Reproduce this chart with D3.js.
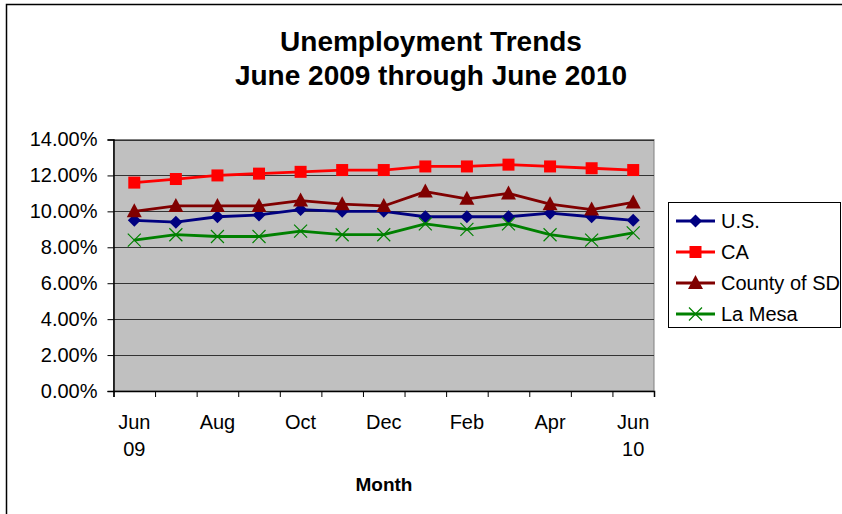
<!DOCTYPE html>
<html>
<head>
<meta charset="utf-8">
<script src="https://cdn.jsdelivr.net/npm/d3@7"></script>
<style>
  html, body { margin: 0; padding: 0; background: #fff; }
  svg { display: block; font-family: "Liberation Sans", Arial, sans-serif; }
</style>
</head>
<body>
<svg id="chart" width="842" height="514"></svg>
<script>
// Monthly categories, June 2009 .. June 2010
const months = ["Jun 09","Jul 09","Aug 09","Sep 09","Oct 09","Nov 09","Dec 09",
                "Jan 10","Feb 10","Mar 10","Apr 10","May 10","Jun 10"];

// Category labels drawn under the axis (every other month)
const monthLabels = [["Jun","09"],[],["Aug"],[],["Oct"],[],["Dec"],[],["Feb"],[],["Apr"],[],["Jun","10"]];

// Unemployment rates, percent
const usRate     = [9.5, 9.4, 9.7, 9.8, 10.1, 10.0, 10.0, 9.7, 9.7, 9.7, 9.9, 9.7, 9.5];
const caRate     = [11.6, 11.8, 12.0, 12.1, 12.2, 12.3, 12.3, 12.5, 12.5, 12.6, 12.5, 12.4, 12.3];
const sdRate     = [10.0, 10.3, 10.3, 10.3, 10.6, 10.4, 10.3, 11.1, 10.7, 11.0, 10.4, 10.1, 10.5];
const laMesaRate = [8.4, 8.7, 8.6, 8.6, 8.9, 8.7, 8.7, 9.3, 9.0, 9.3, 8.7, 8.4, 8.8];

const yTicks = [0, 2, 4, 6, 8, 10, 12, 14];

const seriesNames = ["U.S.", "CA", "County of SD", "La Mesa"];

const series = [
  { name: seriesNames[0], values: usRate,     color: "#000080", marker: "diamond" },
  { name: seriesNames[1], values: caRate,     color: "#ff0000", marker: "square" },
  { name: seriesNames[2], values: sdRate,     color: "#800000", marker: "triangle" },
  { name: seriesNames[3], values: laMesaRate, color: "#008000", marker: "cross" }
];

const svg = d3.select("#chart");

// outer chart frame
svg.append("path")
  .attr("d", "M6.5,514 V4.5 H842")
  .attr("fill", "none")
  .attr("stroke", "#000")
  .attr("stroke-width", 1.5);

// title
const title = svg.append("text")
  .attr("text-anchor", "middle")
  .attr("font-weight", "bold")
  .attr("font-size", 28)
  .attr("fill", "#000");
title.append("tspan").attr("x", 431).attr("y", 51).text("Unemployment Trends");
title.append("tspan").attr("x", 431).attr("y", 85).text("June 2009 through June 2010");

// plot area
const plot = { left: 113.5, right: 654, top: 139.5, bottom: 391 };

const x = d3.scaleBand().domain(months).range([plot.left, plot.right]).padding(0);
const xEdge = d3.scaleLinear().domain([0, months.length]).range([plot.left, plot.right]);
const y = d3.scaleLinear().domain([0, 14]).range([plot.bottom, plot.top]);
const cx = d => x(d) + x.bandwidth() / 2;

svg.append("rect")
  .attr("x", plot.left).attr("y", plot.top)
  .attr("width", plot.right - plot.left).attr("height", plot.bottom - plot.top)
  .attr("fill", "#c0c0c0")
  .attr("stroke", "#808080")
  .attr("stroke-width", 1);

// horizontal gridlines
svg.append("g")
  .selectAll("line")
  .data(yTicks.filter(d => d > 0))
  .join("line")
  .attr("x1", plot.left).attr("x2", plot.right)
  .attr("y1", d => Math.round(y(d)) + 0.5).attr("y2", d => Math.round(y(d)) + 0.5)
  .attr("stroke", "#333")
  .attr("stroke-width", 1);

// y axis
const yAxis = svg.append("g")
  .attr("transform", `translate(${plot.left},0)`)
  .call(d3.axisLeft(y).tickValues(yTicks).tickSize(6).tickPadding(10)
    .tickFormat(d => d.toFixed(2) + "%"));
yAxis.select(".domain").attr("stroke", "#000").attr("stroke-width", 1.5);
yAxis.selectAll(".tick line").attr("stroke", "#000");
yAxis.selectAll(".tick text")
  .attr("font-size", 20)
  .attr("font-family", "Liberation Sans, Arial, sans-serif")
  .attr("fill", "#000");

// x axis: tick marks at category boundaries
const xAxis = svg.append("g")
  .attr("transform", `translate(0,${plot.bottom})`)
  .call(d3.axisBottom(xEdge).tickValues(d3.range(months.length + 1)).tickSize(6)
    .tickFormat(() => ""));
xAxis.select(".domain").attr("stroke", "#000").attr("stroke-width", 1.5);
xAxis.selectAll(".tick line").attr("stroke", "#000");

// category labels
const xl = svg.append("g")
  .selectAll("text")
  .data(months.map((m, i) => ({ m, lines: monthLabels[i] })).filter(d => d.lines.length))
  .join("text")
  .attr("text-anchor", "middle")
  .attr("font-size", 20)
  .attr("fill", "#000");
xl.each(function(d) {
  const t = d3.select(this);
  d.lines.forEach((s, k) => {
    t.append("tspan").attr("x", cx(d.m)).attr("y", 429 + k * 27).text(s);
  });
});

// x axis title
svg.append("text")
  .attr("x", 384).attr("y", 491)
  .attr("text-anchor", "middle")
  .attr("font-weight", "bold")
  .attr("font-size", 19)
  .attr("fill", "#000")
  .text("Month");

// marker drawing
function drawMarker(g, type, color) {
  if (type === "diamond") {
    g.append("path").attr("d", "M0,-6.5 L6.5,0 L0,6.5 L-6.5,0 Z").attr("fill", color);
  } else if (type === "square") {
    g.append("rect").attr("x", -6).attr("y", -6).attr("width", 12).attr("height", 12).attr("fill", color);
  } else if (type === "triangle") {
    g.append("path").attr("d", "M0,-8 L7.5,6 L-7.5,6 Z").attr("fill", color);
  } else if (type === "cross") {
    g.append("path").attr("d", "M-6.5,-6.5 L6.5,6.5 M-6.5,6.5 L6.5,-6.5")
      .attr("stroke", color).attr("stroke-width", 1.2).attr("fill", "none");
  }
}

const line = d3.line().x(d => cx(d.m)).y(d => y(d.v));

series.forEach(s => {
  const pts = months.map((m, i) => ({ m, v: s.values[i] }));
  const g = svg.append("g");
  g.append("path")
    .datum(pts)
    .attr("d", line)
    .attr("fill", "none")
    .attr("stroke", s.color)
    .attr("stroke-width", 2.8)
    .attr("stroke-linejoin", "round");
  g.selectAll("g.mk")
    .data(pts)
    .join("g")
    .attr("class", "mk")
    .attr("transform", d => `translate(${cx(d.m)},${y(d.v)})`)
    .each(function() { drawMarker(d3.select(this), s.marker, s.color); });
});

// legend
const legend = svg.append("g");
legend.append("rect")
  .attr("x", 668.5).attr("y", 202.5)
  .attr("width", 172).attr("height", 125)
  .attr("fill", "#fff")
  .attr("stroke", "#000")
  .attr("stroke-width", 1);
series.forEach((s, i) => {
  const row = legend.append("g").attr("transform", `translate(0,${221 + i * 31})`);
  row.append("line")
    .attr("x1", 676).attr("x2", 715).attr("y1", 0).attr("y2", 0)
    .attr("stroke", s.color).attr("stroke-width", 2.8);
  drawMarker(row.append("g").attr("transform", "translate(695.5,0)"), s.marker, s.color);
  row.append("text")
    .attr("x", 721).attr("y", 0)
    .attr("dy", "0.35em")
    .attr("font-size", 20)
    .attr("fill", "#000")
    .text(s.name);
});
</script>
</body>
</html>
